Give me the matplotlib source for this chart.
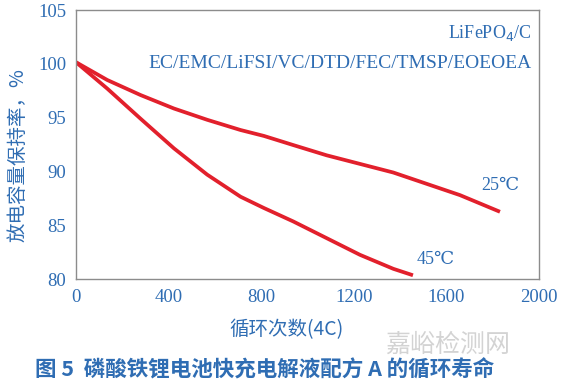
import numpy as np
import matplotlib
matplotlib.use("Agg")
import matplotlib.pyplot as plt

# cycle-life data
cycles_25 = [0, 135, 279, 423, 567, 711, 812, 939, 1083, 1227, 1371, 1515, 1659, 1832]
retention_25 = [100.15, 98.5, 97.1, 95.85, 94.8, 93.85, 93.3, 92.45, 91.5, 90.7, 89.9,
                88.85, 87.8, 86.25]

cycles_45 = [0, 135, 279, 423, 567, 711, 812, 939, 1083, 1227, 1371, 1456]
retention_45 = [100.15, 97.7, 94.9, 92.15, 89.7, 87.65, 86.6, 85.35, 83.8, 82.25, 80.95, 80.35]

x_ticks = [0, 400, 800, 1200, 1600, 2000]
y_ticks = [80, 85, 90, 95, 100, 105]

blue = "#2f6db3"
red = "#e2202c"
serif = ["Liberation Serif", "DejaVu Serif"]
cjk = ["Noto Sans CJK SC", "DejaVu Sans"]

fig = plt.figure(figsize=(5.61, 3.87), dpi=100)
ax = fig.add_axes([0.1355, 0.279, 0.825, 0.695])

ax.plot(cycles_25, retention_25, color=red, lw=2.7, solid_capstyle="butt", solid_joinstyle="round")
ax.plot(cycles_45, retention_45, color=red, lw=2.7, solid_capstyle="butt", solid_joinstyle="round")

ax.set_xlim(0, 2000)
ax.set_ylim(80, 105)
ax.set_xticks(x_ticks)
ax.set_yticks(y_ticks)
ax.tick_params(length=0, pad=7, labelcolor=blue, labelsize=13.5)
for lab in ax.get_xticklabels() + ax.get_yticklabels():
    lab.set_family(serif)
for sp in ax.spines.values():
    sp.set_color("#8c8c8c")
    sp.set_linewidth(1.0)

ax.text(0.985, 0.915, r"LiFePO$_4$/C", transform=ax.transAxes, ha="right", va="center",
        color=blue, fontsize=13, family=serif)
ax.text(0.985, 0.8, "EC/EMC/LiFSI/VC/DTD/FEC/TMSP/EOEOEA", transform=ax.transAxes,
        ha="right", va="center", color=blue, fontsize=14, family=serif)
ax.text(1835, 88.7, "25℃", ha="center", va="center", color=blue, fontsize=13, family=serif)
ax.text(1554, 81.8, "45℃", ha="center", va="center", color=blue, fontsize=13, family=serif)

fig.text(0.032, 0.6, "放电容量保持率，%", rotation=90, ha="center", va="center",
         color=blue, fontsize=14, family=cjk)
fig.text(0.51, 0.147, "循环次数(4C)", ha="center", va="center",
         color=blue, fontsize=14, family=cjk)
fig.text(0.471, 0.044, "图 5  磷酸铁锂电池快充电解液配方 A 的循环寿命", ha="center", va="center",
         color=blue, fontsize=15.5, fontweight="bold", family=cjk)
fig.text(0.909, 0.108, "嘉峪检测网", ha="right", va="center", color="#c8c8c8",
         fontsize=18, family=cjk, alpha=0.8)

fig.savefig("out.png", dpi=100)
